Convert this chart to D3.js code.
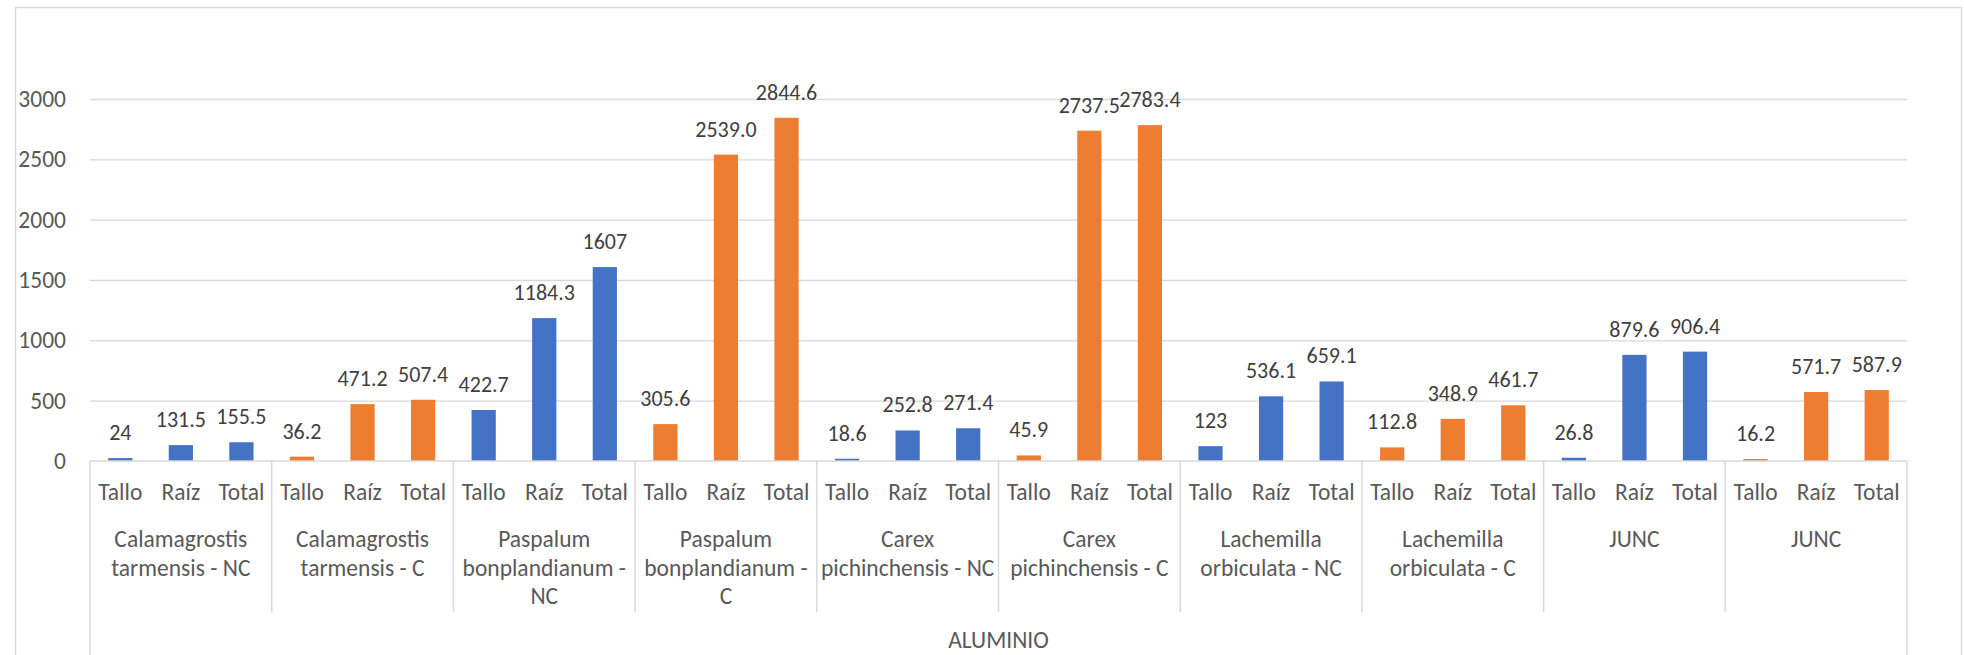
<!DOCTYPE html>
<html>
<head>
<meta charset="utf-8">
<script src="https://cdn.jsdelivr.net/npm/d3@7/dist/d3.min.js"></script>
<style>
  body { margin: 0; background: #fff; }
  svg text { font-family: Carlito, Lato, sans-serif; }
</style>
</head>
<body>
<svg id="chart"></svg>
<script>
// chart data
const groups = [
  'Calamagrostis\ntarmensis - NC',
  'Calamagrostis\ntarmensis - C',
  'Paspalum\nbonplandianum -\nNC',
  'Paspalum\nbonplandianum -\nC',
  'Carex\npichinchensis - NC',
  'Carex\npichinchensis - C',
  'Lachemilla\norbiculata - NC',
  'Lachemilla\norbiculata - C',
  'JUNC',
  'JUNC'
];
const treatment = ['NC', 'C', 'NC', 'C', 'NC', 'C', 'NC', 'C', 'NC', 'C'];
const parts = ['Tallo', 'Raíz', 'Total'];
const talloValues = ['24', '36.2', '422.7', '305.6', '18.6', '45.9', '123', '112.8', '26.8', '16.2'];
const raizValues = ['131.5', '471.2', '1184.3', '2539.0', '252.8', '2737.5', '536.1', '348.9', '879.6', '571.7'];
const totalValues = ['155.5', '507.4', '1607', '2844.6', '271.4', '2783.4', '659.1', '461.7', '906.4', '587.9'];
const yTicks = [0, 500, 1000, 1500, 2000, 2500, 3000];
const axisTitle = 'ALUMINIO';

let width = 1964;
let height = 655;
let left = 90;
let right = 1907;
let fontSize = 23.5;
let labelSize = 22;

let svg = d3.select('#chart')
    .attr('width', width)
    .attr('height', height);

// one row per bar
let rows = [];
groups.forEach((g, i) => {
    let vals = [talloValues[i], raizValues[i], totalValues[i]];
    parts.forEach((p, j) => {
        rows.push({ key: i + '|' + p, group: i, part: p, label: vals[j], value: +vals[j], treatment: treatment[i] });
    });
});

const xScale = d3.scaleBand()
    .domain(rows.map(d => d.key))
    .range([left, right])
    .paddingInner(0.6)
    .paddingOuter(0.3);

const groupScale = d3.scaleBand()
    .domain(d3.range(groups.length))
    .range([left, right]);

const yScale = d3.scaleLinear()
    .domain([0, 3000])
    .range([461, 99]);

const color = d3.scaleOrdinal()
    .domain(['NC', 'C'])
    .range(['#4472C4', '#ED7D31']);

// outer frame
svg.append('rect')
    .attr('x', 15.5)
    .attr('y', 7.5)
    .attr('width', 1946)
    .attr('height', 700)
    .attr('fill', 'none')
    .attr('stroke', '#D9D9D9')
    .attr('stroke-width', 1.5);

// gridlines
let grid = svg.append('g')
    .attr('transform', 'translate(' + left + ',0)')
    .call(d3.axisLeft(yScale).tickValues(yTicks.filter(t => t > 0)).tickSize(-(right - left)).tickFormat(''));
grid.select('.domain').remove();
grid.selectAll('line').attr('stroke', '#D9D9D9').attr('stroke-width', 1.3);

// y labels
let yAxis = svg.append('g')
    .attr('transform', 'translate(' + left + ',0)')
    .call(d3.axisLeft(yScale).tickValues(yTicks).tickSize(0).tickPadding(24).tickFormat(d3.format('d')));
yAxis.select('.domain').remove();
yAxis.selectAll('text')
    .attr('font-size', fontSize)
    .attr('fill', '#595959');

// bars
svg.selectAll('rect.bar')
    .data(rows)
    .enter()
    .append('rect')
    .attr('class', 'bar')
    .attr('x', d => xScale(d.key))
    .attr('width', xScale.bandwidth())
    .attr('y', d => yScale(d.value))
    .attr('height', d => yScale(0) - yScale(d.value))
    .attr('fill', d => color(d.treatment));

// data labels
svg.selectAll('text.val')
    .data(rows)
    .enter()
    .append('text')
    .attr('class', 'val')
    .attr('x', d => xScale(d.key) + xScale.bandwidth() / 2)
    .attr('y', d => yScale(d.value) - 18)
    .attr('text-anchor', 'middle')
    .attr('font-size', labelSize)
    .attr('fill', '#404040')
    .text(d => d.label);

// category axis line
svg.append('line')
    .attr('x1', left).attr('x2', right)
    .attr('y1', yScale(0)).attr('y2', yScale(0))
    .attr('stroke', '#D9D9D9')
    .attr('stroke-width', 1.5);

// sub-category labels
let xAxis = svg.append('g')
    .attr('transform', 'translate(0,' + yScale(0) + ')')
    .call(d3.axisBottom(xScale).tickSize(0).tickPadding(22).tickFormat(k => k.split('|')[1]));
xAxis.select('.domain').remove();
xAxis.selectAll('text')
    .attr('font-size', fontSize)
    .attr('fill', '#595959');

// group separators
let step = groupScale.step();
d3.range(groups.length + 1).forEach(i => {
    let outer = (i === 0 || i === groups.length);
    svg.append('line')
        .attr('x1', left + i * step).attr('x2', left + i * step)
        .attr('y1', yScale(0)).attr('y2', outer ? 700 : 612)
        .attr('stroke', '#D9D9D9')
        .attr('stroke-width', 1.5);
});

// group labels
svg.selectAll('text.grp')
    .data(groups)
    .enter()
    .append('text')
    .attr('class', 'grp')
    .attr('text-anchor', 'middle')
    .attr('font-size', fontSize)
    .attr('fill', '#595959')
    .each(function (g, i) {
        let t = d3.select(this);
        g.split('\n').forEach((line, k) => {
            t.append('tspan')
                .attr('x', groupScale(i) + step / 2)
                .attr('y', 547 + k * 28.5)
                .text(line);
        });
    });

// outer category title
svg.append('text')
    .attr('x', (left + right) / 2)
    .attr('y', 648)
    .attr('text-anchor', 'middle')
    .attr('font-size', fontSize)
    .attr('fill', '#595959')
    .text(axisTitle);
</script>
</body>
</html>
